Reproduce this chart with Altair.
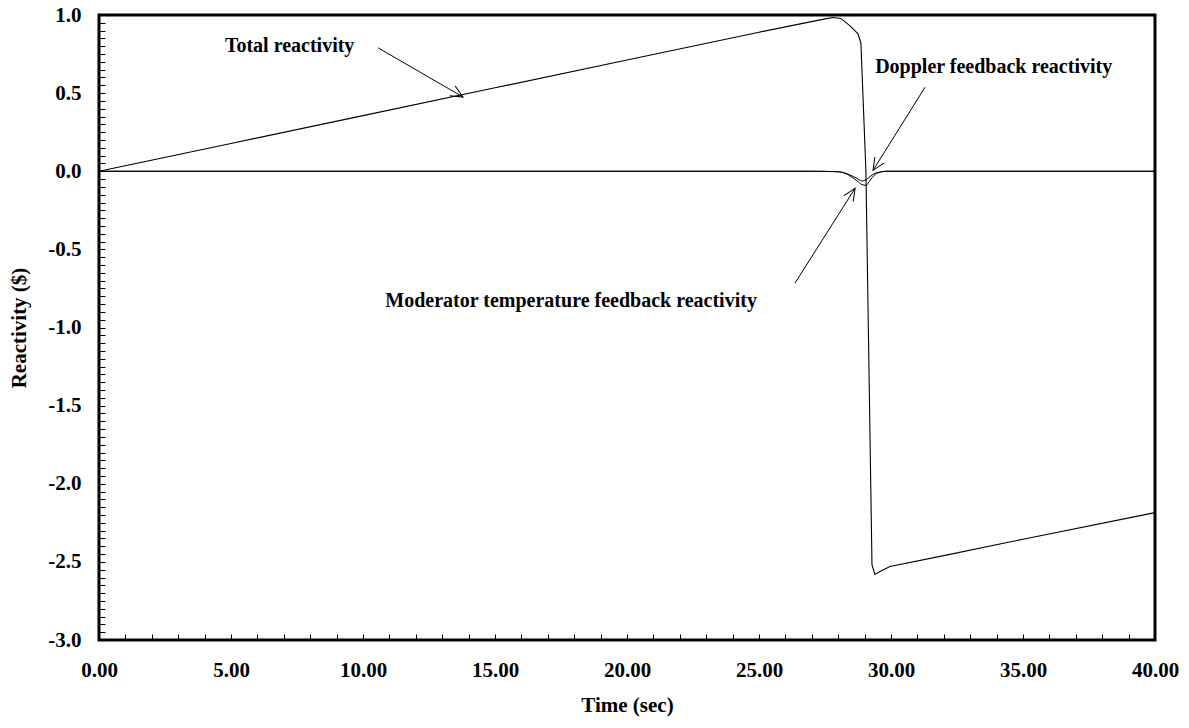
import math
import altair as alt
import pandas as pd

# ---- data ----
t_total = [0, 5, 10, 15, 20, 25, 27.5, 27.8, 28.1, 28.45, 28.75, 28.86, 29.05, 29.28, 29.39, 29.6, 29.96, 32, 35, 40]
total = [0, 0.178, 0.356, 0.534, 0.712, 0.89, 0.975, 0.984, 0.978, 0.93, 0.88, 0.82, 0.0, -2.52, -2.58, -2.56, -2.53, -2.46, -2.355, -2.185]

t_fb = [0, 27, 28.0, 28.4, 28.7, 28.9, 29.05, 29.2, 29.4, 29.6, 29.85, 35, 40]
doppler = [0, 0, -0.003, -0.02, -0.045, -0.062, -0.055, -0.035, -0.013, -0.004, 0, 0, 0]
moderator = [0, 0, -0.003, -0.025, -0.06, -0.085, -0.09, -0.06, -0.02, -0.006, 0, 0, 0]

x_labels = [0, 5, 10, 15, 20, 25, 30, 35, 40]
y_labels = [-3.0, -2.5, -2.0, -1.5, -1.0, -0.5, 0.0, 0.5, 1.0]
x_minor = list(range(0, 41))
y_minor = [round(-3 + 0.05 * i, 2) for i in range(81)]

ann_text = ["Total reactivity", "Doppler feedback reactivity", "Moderator temperature feedback reactivity"]
ann_x = [4.77, 29.4, 24.92]
ann_y = [0.80, 0.666, -0.83]
ann_align = ["left", "left", "right"]

arrow_x0 = [10.57, 31.29, 26.36]
arrow_y0 = [0.79, 0.538, -0.717]
arrow_x1 = [13.79, 29.32, 28.64]
arrow_y1 = [0.475, 0.006, -0.109]

W, H = 1056, 625
XMIN, XMAX, YMIN, YMAX = 0, 40, -3, 1
FONT = "Liberation Serif"
TICK_FS = 21
TITLE_FS = 21
ANN_FS = 20

xs = alt.Scale(domain=[XMIN, XMAX], nice=False, zero=False)
ys = alt.Scale(domain=[YMIN, YMAX], nice=False, zero=False)

df_total = pd.DataFrame({"t": t_total, "v": total})
df_fb = pd.DataFrame({"t": t_fb * 2, "v": doppler + moderator,
                      "s": ["Doppler"] * len(t_fb) + ["Moderator"] * len(t_fb)})

minus = "\u2212"
ylabel_expr = f"replace(format(datum.value, '.1f'), '{minus}', '-')"

total_line = alt.Chart(df_total).mark_line(color="black", strokeWidth=1.1).encode(
    x=alt.X("t:Q", scale=xs, axis=alt.Axis(
        orient="bottom", values=x_labels, format=".2f", ticks=False, domain=False, grid=False,
        labelFlush=False, labelOverlap=False,
        labelFont=FONT, labelFontWeight="bold", labelFontSize=TICK_FS, labelColor="black",
        labelPadding=19, title="Time (sec)", titleFont=FONT, titleFontWeight="bold",
        titleFontSize=TITLE_FS, titleColor="black", titlePadding=14)),
    y=alt.Y("v:Q", scale=ys, axis=alt.Axis(
        orient="left", values=y_labels, labelExpr=ylabel_expr, ticks=False, domain=False, grid=False,
        labelFlush=False, labelOverlap=False,
        labelFont=FONT, labelFontWeight="bold", labelFontSize=TICK_FS, labelColor="black",
        labelPadding=18, title="Reactivity ($)", titleFont=FONT, titleFontWeight="bold",
        titleFontSize=TITLE_FS, titleColor="black", titlePadding=18)),
)

fb_lines = alt.Chart(df_fb).mark_line(color="black", strokeWidth=1, interpolate="monotone").encode(
    x=alt.X("t:Q", scale=xs, axis=alt.Axis(
        orient="bottom", values=x_minor, labels=False, ticks=True, tickSize=6, tickColor="black",
        tickWidth=1, domain=False, grid=False, offset=-6, title=None)),
    y=alt.Y("v:Q", scale=ys, axis=alt.Axis(
        orient="left", values=y_minor, labels=False, ticks=True, tickSize=6, tickColor="black",
        tickWidth=1, domain=False, grid=False, offset=-6, title=None)),
    detail="s:N",
)

df_ann = pd.DataFrame({"x": ann_x, "y": ann_y, "text": ann_text, "align": ann_align})
text_left = alt.Chart(df_ann[df_ann["align"] == "left"]).mark_text(
    align="left", baseline="middle", font=FONT, fontWeight="bold", fontSize=ANN_FS, color="black"
).encode(x=alt.X("x:Q", scale=xs, axis=None), y=alt.Y("y:Q", scale=ys, axis=None), text="text:N")
text_right = alt.Chart(df_ann[df_ann["align"] == "right"]).mark_text(
    align="right", baseline="middle", font=FONT, fontWeight="bold", fontSize=ANN_FS, color="black"
).encode(x=alt.X("x:Q", scale=xs, axis=None), y=alt.Y("y:Q", scale=ys, axis=None), text="text:N")

# arrow shafts and heads
df_arr = pd.DataFrame({"x0": arrow_x0, "y0": arrow_y0, "x1": arrow_x1, "y1": arrow_y1})
px_x = W / (XMAX - XMIN)
px_y = H / (YMAX - YMIN)
df_arr["angle"] = [
    math.degrees(math.atan2((b - a) * px_x, (d - c) * px_y)) % 360
    for a, b, c, d in zip(arrow_x0, arrow_x1, arrow_y0, arrow_y1)
]
shafts = alt.Chart(df_arr).mark_rule(color="black", strokeWidth=1).encode(
    x=alt.X("x0:Q", scale=xs, axis=None), y=alt.Y("y0:Q", scale=ys, axis=None),
    x2="x1:Q", y2="y1:Q")
heads = alt.Chart(df_arr).mark_point(
    shape="M -0.45 1 L 0 0 L 0.45 1", filled=False, color="black", strokeWidth=1, size=600, opacity=1
).encode(
    x=alt.X("x1:Q", scale=xs, axis=None), y=alt.Y("y1:Q", scale=ys, axis=None),
    angle=alt.Angle("angle:Q", scale=None))

chart = alt.layer(total_line, fb_lines, text_left, text_right, shafts, heads).resolve_axis(
    x="independent", y="independent"
).properties(
    width=W, height=H,
    autosize=alt.AutoSizeParams(type="none"),
    padding={"left": 99, "top": 15, "right": 34, "bottom": 88},
    background="white",
).configure_view(stroke="black", strokeWidth=3)

chart.save("out.html", embed_options={"renderer": "svg", "actions": False})
